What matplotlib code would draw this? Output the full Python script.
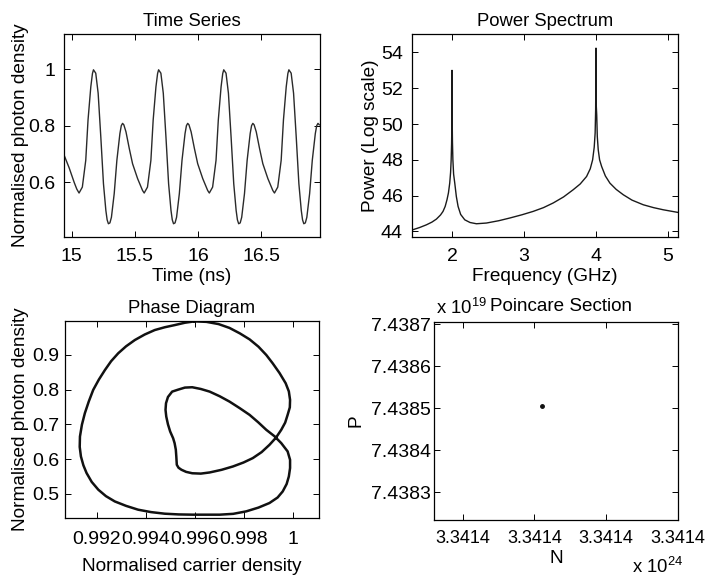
"""Four-panel laser dynamics figure: time series, spectrum, phase diagram, Poincare section."""

import matplotlib
matplotlib.use("Agg")
import matplotlib.pyplot as plt
from matplotlib.ticker import FuncFormatter

plt.rcParams["font.family"] = ["Liberation Sans", "DejaVu Sans"]
plt.rcParams["font.size"] = 13.7
plt.rcParams["axes.titlesize"] = 13.3
plt.rcParams["xtick.labelsize"] = 14
plt.rcParams["ytick.labelsize"] = 14
plt.rcParams["mathtext.default"] = "regular"

# --- Time series ---
ts_time = [
    14.94, 14.98, 15.02, 15.04,
    15.058, 15.084, 15.111, 15.129, 15.151, 15.164, 15.172, 15.190, 15.209, 15.230,
    15.251, 15.270, 15.280, 15.290, 15.302, 15.314, 15.336, 15.357, 15.381, 15.392,
    15.402, 15.412, 15.429, 15.455, 15.481, 15.521, 15.560,
    15.573, 15.599, 15.626, 15.644, 15.666, 15.679, 15.687, 15.705, 15.724, 15.745,
    15.766, 15.785, 15.795, 15.805, 15.817, 15.829, 15.851, 15.872, 15.896, 15.907,
    15.917, 15.927, 15.944, 15.970, 15.996, 16.036, 16.075,
    16.088, 16.114, 16.141, 16.159, 16.181, 16.194, 16.202, 16.220, 16.239, 16.260,
    16.281, 16.300, 16.310, 16.320, 16.332, 16.344, 16.366, 16.387, 16.411, 16.422,
    16.432, 16.442, 16.459, 16.485, 16.511, 16.551, 16.590,
    16.603, 16.629, 16.656, 16.674, 16.696, 16.709, 16.717, 16.735, 16.754, 16.775,
    16.796, 16.815, 16.825, 16.835, 16.847, 16.859, 16.881, 16.902, 16.926, 16.937,
    16.947, 16.957,
]
ts_photon = [
    0.695, 0.650, 0.598, 0.575,
    0.561, 0.582, 0.677, 0.820, 0.938, 0.985, 0.998, 0.986, 0.915, 0.760,
    0.594, 0.499, 0.466, 0.452, 0.455, 0.475, 0.559, 0.677, 0.772, 0.800,
    0.808, 0.803, 0.778, 0.719, 0.665, 0.612, 0.570,
    0.561, 0.582, 0.677, 0.820, 0.938, 0.985, 0.998, 0.986, 0.915, 0.760,
    0.594, 0.499, 0.466, 0.452, 0.455, 0.475, 0.559, 0.677, 0.772, 0.800,
    0.808, 0.803, 0.778, 0.719, 0.665, 0.612, 0.570,
    0.561, 0.582, 0.677, 0.820, 0.938, 0.985, 0.998, 0.986, 0.915, 0.760,
    0.594, 0.499, 0.466, 0.452, 0.455, 0.475, 0.559, 0.677, 0.772, 0.800,
    0.808, 0.803, 0.778, 0.719, 0.665, 0.612, 0.570,
    0.561, 0.582, 0.677, 0.820, 0.938, 0.985, 0.998, 0.986, 0.915, 0.760,
    0.594, 0.499, 0.466, 0.452, 0.455, 0.475, 0.559, 0.677, 0.772, 0.800,
    0.808, 0.803,
]

# --- Power spectrum ---
freq_ghz = [
    1.444, 1.55, 1.644, 1.72, 1.783, 1.84, 1.875, 1.905, 1.930, 1.950,
    1.968, 1.980, 1.988, 1.994, 1.998, 2.000, 2.002, 2.006, 2.012, 2.022,
    2.038, 2.06, 2.084, 2.12, 2.177, 2.25, 2.339, 2.478, 2.65, 2.802,
    2.97, 3.127, 3.27, 3.405, 3.55, 3.683, 3.78, 3.869, 3.92, 3.953,
    3.975, 3.988, 3.995, 4.000, 4.004, 4.010, 4.018, 4.031, 4.05, 4.078,
    4.13, 4.193, 4.28, 4.379, 4.5, 4.657, 4.8, 4.935, 5.143,
]
power_log = [
    44.08, 44.22, 44.37, 44.52, 44.69, 44.92, 45.12, 45.40, 45.77, 46.15,
    46.70, 47.30, 48.00, 48.90, 50.10, 53.0, 50.3, 49.0, 48.0, 47.2,
    46.70, 45.95, 45.40, 44.95, 44.65, 44.50, 44.43, 44.47, 44.60, 44.75,
    44.93, 45.12, 45.33, 45.59, 45.93, 46.33, 46.65, 47.07, 47.5, 48.0,
    48.7, 49.5, 50.8, 54.24, 51.0, 50.5, 49.3, 48.56, 48.0, 47.63,
    47.1, 46.70, 46.35, 46.05, 45.75, 45.49, 45.33, 45.21, 45.06,
]

# --- Phase diagram (one closed orbit, starting at the top) ---
phase_carrier = [
    0.99600, 0.99560, 0.99519, 0.99478, 0.99437, 0.99396, 0.99356, 0.99320,
    0.99288, 0.99259, 0.99234, 0.99209, 0.99186, 0.99168, 0.99152, 0.99140,
    0.99132, 0.99131, 0.99136, 0.99146, 0.99159, 0.99180, 0.99207, 0.99238,
    0.99274, 0.99320, 0.99369, 0.99422, 0.99478, 0.99535, 0.99593, 0.99650,
    0.99702, 0.99757, 0.99810, 0.99860, 0.99905, 0.99938, 0.99959, 0.99975,
    0.99984, 0.99989, 0.99989, 0.99979, 0.99953, 0.99925, 0.99892, 0.99859,
    0.99824, 0.99783, 0.99742, 0.99702, 0.99661, 0.99625, 0.99590, 0.99560,
    0.99532, 0.99508, 0.99491, 0.99483, 0.99481, 0.99484, 0.99491, 0.99500,
    0.99512, 0.99518, 0.99523, 0.99525, 0.99527, 0.99534, 0.99546, 0.99565,
    0.99590, 0.99625, 0.99661, 0.99710, 0.99756, 0.99799, 0.99837, 0.99873,
    0.99905, 0.99932, 0.99953, 0.99969, 0.99979, 0.99988, 0.99989, 0.99984,
    0.99971, 0.99946, 0.99918, 0.99892, 0.99860, 0.99824, 0.99784, 0.99742,
    0.99697, 0.99648, 0.99600,
]
phase_photon = [
    0.9970, 0.9930, 0.9863, 0.9800, 0.9719, 0.9590, 0.9432, 0.9250,
    0.9049, 0.8820, 0.8568, 0.8290, 0.7993, 0.7660, 0.7322, 0.6990,
    0.6649, 0.6350, 0.6073, 0.5820, 0.5596, 0.5340, 0.5115, 0.4930,
    0.4778, 0.4650, 0.4540, 0.4470, 0.4424, 0.4403, 0.4396, 0.4396,
    0.4396, 0.4420, 0.4491, 0.4600, 0.4732, 0.4890, 0.5066, 0.5280,
    0.5498, 0.5740, 0.5978, 0.6220, 0.6459, 0.6660, 0.6842, 0.7060,
    0.7273, 0.7470, 0.7656, 0.7810, 0.7944, 0.8020, 0.8070, 0.8060,
    0.8000, 0.7944, 0.7790, 0.7610, 0.7420, 0.7225, 0.7000, 0.6793,
    0.6600, 0.6459, 0.6270, 0.6073, 0.5835, 0.5750, 0.5691, 0.5630,
    0.5590, 0.5580, 0.5613, 0.5690, 0.5786, 0.5900, 0.6027, 0.6200,
    0.6410, 0.6620, 0.6842, 0.7050, 0.7273, 0.7490, 0.7705, 0.7950,
    0.8186, 0.8480, 0.8761, 0.9000, 0.9240, 0.9450, 0.9624, 0.9780,
    0.9892, 0.9955, 0.9970,
]

# --- Poincare section ---
poincare_N = [3.3413991e24]
poincare_P = [7.4385055e19]
poincare_xticks = [3.341398e24, 3.341399e24, 3.341400e24, 3.341401e24]
poincare_yticks = [7.4383e19, 7.4384e19, 7.4385e19, 7.4386e19, 7.4387e19]

W, H = 706, 579


def px_axes(fig, left, top, right, bottom):
    return fig.add_axes([left / W, 1 - bottom / H, (right - left) / W, (bottom - top) / H])


def style(ax, xpad, ypad):
    ax.tick_params(direction="in", top=True, right=True, length=4, width=0.7)
    ax.tick_params(axis="x", pad=xpad)
    ax.tick_params(axis="y", pad=ypad)
    for s in ax.spines.values():
        s.set_linewidth(0.9)


fig = plt.figure(figsize=(W / 100, H / 100), dpi=100)

# Time series
ax1 = px_axes(fig, 64, 34, 320, 237)
ax1.plot(ts_time, ts_photon, color="#2a2a2a", lw=1.0)
ax1.set_xlim(14.939, 16.963)
ax1.set_ylim(0.405, 1.125)
ax1.set_xticks([15, 15.5, 16, 16.5], ["15", "15.5", "16", "16.5"])
ax1.set_yticks([0.6, 0.8, 1.0], ["0.6", "0.8", "1"])
style(ax1, 8, 6.5)
ax1.set_title("Time Series")
ax1.set_xlabel("Time (ns)", labelpad=2)
ax1.set_ylabel("Normalised photon density")
ax1.yaxis.set_label_coords(-0.137, 0.5)

# Power spectrum
ax2 = px_axes(fig, 412, 34, 678, 237)
ax2.plot(freq_ghz, power_log, color="#1a1a1a", lw=1.0)
ax2.set_xlim(1.444, 5.139)
ax2.set_ylim(43.69, 55.03)
ax2.set_xticks([2, 3, 4, 5])
ax2.set_yticks([44, 46, 48, 50, 52, 54])
style(ax2, 8, 6.5)
ax2.set_title("Power Spectrum")
ax2.set_xlabel("Frequency (GHz)", labelpad=2)
ax2.set_ylabel("Power (Log scale)")
ax2.yaxis.set_label_coords(-0.124, 0.5)

# Phase diagram
ax3 = px_axes(fig, 65, 321, 319, 518)
ax3.plot(phase_carrier, phase_photon, color="#111111", lw=1.8)
ax3.set_xlim(0.99071, 1.00107)
ax3.set_ylim(0.430, 0.998)
ax3.set_xticks([0.992, 0.994, 0.996, 0.998, 1.0], ["0.992", "0.994", "0.996", "0.998", "1"])
ax3.set_yticks([0.5, 0.6, 0.7, 0.8, 0.9], ["0.5", "0.6", "0.7", "0.8", "0.9"])
style(ax3, 9.4, 4.3)
ax3.set_title("Phase Diagram")
ax3.set_xlabel("Normalised carrier density", labelpad=7)
ax3.set_ylabel("Normalised photon density")
ax3.yaxis.set_label_coords(-0.142, 0.5)

# Poincare section
ax4 = px_axes(fig, 434, 322, 678, 520)
ax4.plot(poincare_N, poincare_P, "o", color="#111111", ms=2.5)
ax4.set_xlim(3.3413976e24, 3.3414010e24)
ax4.set_ylim(7.438234e19, 7.438705e19)
ax4.set_xticks(poincare_xticks)
ax4.set_yticks(poincare_yticks)
ax4.xaxis.set_major_formatter(FuncFormatter(lambda v, p: f"{v / 1e24:.4f}"))
ax4.yaxis.set_major_formatter(FuncFormatter(lambda v, p: f"{v / 1e19:.4f}"))
style(ax4, 7.2, 2)
ax4.tick_params(axis="x", labelsize=13)
ax4.set_xlabel("N", labelpad=2)
ax4.set_ylabel("P")
ax4.yaxis.set_label_coords(-0.283, 0.5)
fig.text(490 / W, 1 - 311 / H, "Poincare Section", ha="left", va="baseline", fontsize=13.6)
fig.text(436 / W, 1 - 313.5 / H, r"x 10$^{19}$", ha="left", va="baseline", fontsize=13.3)
fig.text(632 / W, 1 - 573 / H, r"x 10$^{24}$", ha="left", va="baseline", fontsize=13.3)

fig.savefig("out.png", dpi=100)
